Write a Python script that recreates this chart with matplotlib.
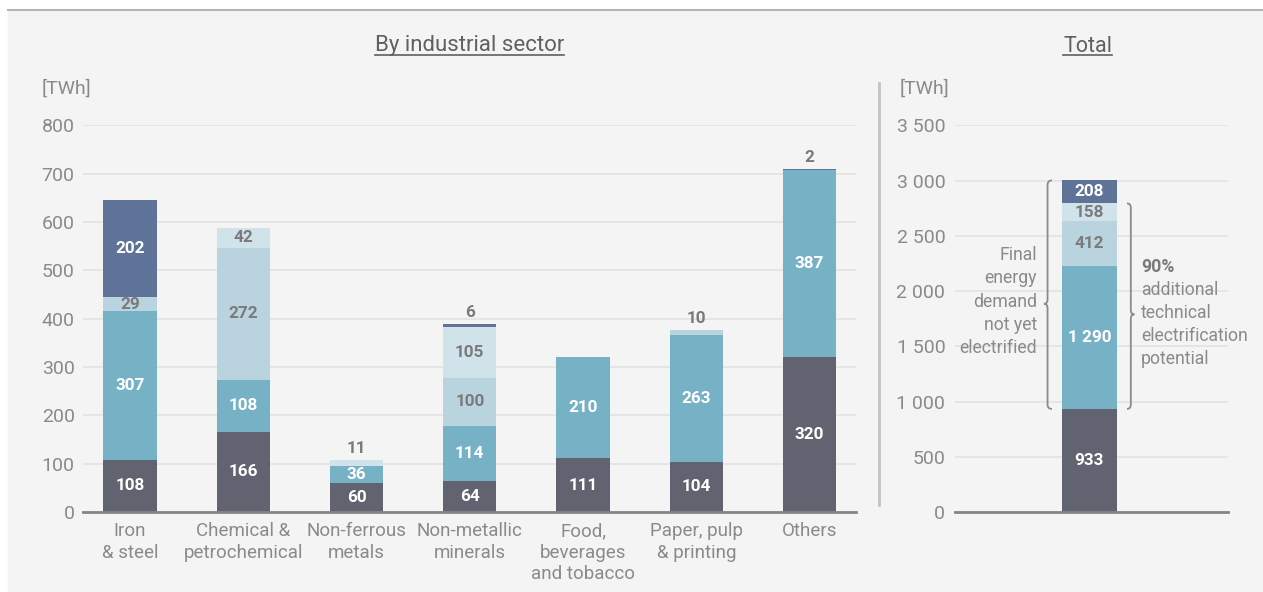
import matplotlib.pyplot as plt
from matplotlib.path import Path
from matplotlib.patches import PathPatch, Rectangle
from matplotlib.lines import Line2D

plt.rcParams['font.family'] = ['Roboto', 'DejaVu Sans']

# ---------- data [TWh] ----------
sectors = ["Iron\n& steel", "Chemical &\npetrochemical", "Non-ferrous\nmetals",
           "Non-metallic\nminerals", "Food,\nbeverages\nand tobacco",
           "Paper, pulp\n& printing", "Others"]
seg_dark = [108, 166, 60, 64, 111, 104, 320]
seg_teal = [307, 108, 36, 114, 210, 263, 387]
seg_light = [29, 272, 0, 100, 0, 10, 0]
seg_pale = [0, 42, 11, 105, 0, 0, 0]
seg_navy = [202, 0, 0, 6, 0, 0, 2]

total_segs = [933, 1290, 412, 158, 208]

left_ticks = [0, 100, 200, 300, 400, 500, 600, 700, 800]
right_ticks = [0, 500, 1000, 1500, 2000, 2500, 3000, 3500]

# ---------- style ----------
colors = ["#626370", "#77b1c6", "#b9d4df", "#d0e3eb", "#5e7397"]
lab_colors = ["white", "white", "#7a7a7a", "#7a7a7a", "white"]
bg = "#f4f4f4"
grid_col = "#e3e3e3"
axis_col = "#858585"
txt_col = "#8a8a8a"
W, H = 1263, 592


def fmt(v):
    return f"{v:,}".replace(",", " ")


def style_axis(ax, ticks, pad):
    ax.set_facecolor("none")
    for s in ["top", "right", "left"]:
        ax.spines[s].set_visible(False)
    ax.spines["bottom"].set_color(axis_col)
    ax.spines["bottom"].set_linewidth(2)
    ax.spines["bottom"].set_zorder(5)
    ax.set_yticks(ticks)
    ax.set_yticklabels([fmt(t) for t in ticks])
    ax.set_ylim(ticks[0], ticks[-1])
    ax.tick_params(axis="y", length=0, pad=pad, labelsize=14, labelcolor=txt_col)
    ax.tick_params(axis="x", length=0, pad=7.5, labelsize=13.5, labelcolor=txt_col)
    ax.yaxis.grid(True, color=grid_col, lw=1.2)
    ax.set_axisbelow(True)


def stack(ax, xs, layers, width, small=15):
    bottoms = [0] * len(xs)
    for layer, c, lc in zip(layers, colors, lab_colors):
        for i, v in enumerate(layer):
            if v == 0:
                continue
            ax.bar(xs[i], v, width, bottom=bottoms[i], color=c, zorder=2)
            if v >= small:
                ax.text(xs[i], bottoms[i] + v / 2, fmt(v), ha="center", va="center",
                        color=lc, fontsize=12.3, fontweight="bold", zorder=3)
            bottoms[i] += v
    # tiny top segments get their value above the bar
    for layer in layers:
        for i, v in enumerate(layer):
            if 0 < v < small:
                ax.annotate(fmt(v), (xs[i], bottoms[i]), xytext=(0, 3),
                            textcoords="offset points", ha="center", va="bottom",
                            color="#7a7a7a", fontsize=12.3, fontweight="bold")
    return bottoms


def brace(ax, x_end, x_spine, x_tip, y0, y1, frac=0.46, r=40):
    ym = y0 + (y1 - y0) * frac
    verts = [(x_end, y1), (x_spine, y1), (x_spine, y1 - r),
             (x_spine, ym + r),
             (x_spine, ym), (x_tip, ym),
             (x_spine, ym), (x_spine, ym - r),
             (x_spine, y0 + r),
             (x_spine, y0), (x_end, y0)]
    codes = [Path.MOVETO, Path.CURVE3, Path.CURVE3,
             Path.LINETO,
             Path.CURVE3, Path.CURVE3,
             Path.CURVE3, Path.CURVE3,
             Path.LINETO,
             Path.CURVE3, Path.CURVE3]
    ax.add_patch(PathPatch(Path(verts, codes), fill=False, edgecolor="#8a8a8a",
                           lw=1.3, clip_on=False, zorder=4))


fig = plt.figure(figsize=(W / 100, H / 100), dpi=100, facecolor="white")
fig.add_artist(Rectangle((8 / W, 0), 1, (H - 10) / H, transform=fig.transFigure,
                         color=bg, zorder=-10))
fig.add_artist(Line2D([8 / W, 1], [(H - 10) / H] * 2, color="#b5b5b5", lw=1.5))

# ---------- by industrial sector ----------
ax1 = fig.add_axes([83 / W, 80 / H, 773 / W, 386.7 / H])
style_axis(ax1, left_ticks, 6)
xs = list(range(len(sectors)))
stack(ax1, xs, [seg_dark, seg_teal, seg_light, seg_pale, seg_navy], 0.47)
ax1.set_xlim(-0.415, 6.41)
ax1.set_xticks(xs)
ax1.set_xticklabels(sectors, linespacing=1.25)

# ---------- total ----------
ax2 = fig.add_axes([955 / W, 80 / H, 273 / W, 386.7 / H])
style_axis(ax2, right_ticks, 7)
ax2.set_xlim(0, 1)
ax2.set_xticks([])
stack(ax2, [0.492], [[v] for v in total_segs], 0.2)

top_all = sum(total_segs)
top_90 = sum(total_segs[:4])
brace(ax2, 0.355, 0.339, 0.326, total_segs[0], top_all)
brace(ax2, 0.630, 0.644, 0.657, total_segs[0], top_90)
ax2.text(0.300, 1905, "Final\nenergy\ndemand\nnot yet\nelectrified", ha="right",
         va="center", multialignment="right", color=txt_col, fontsize=12.7,
         linespacing=1.37)
ax2.text(0.681, 2217, "90%", ha="left", va="center", color="#7a7a7a",
         fontsize=12.7, fontweight="bold")
ax2.text(0.681, 1700, "additional\ntechnical\nelectrification\npotential", ha="left",
         va="center", color=txt_col, fontsize=12.7, linespacing=1.36)

# divider between panels
fig.add_artist(Line2D([879 / W] * 2, [(H - 505) / H, (H - 83) / H], color="#c3c3c3", lw=2))

# unit labels
fig.text(42 / W, (H - 89) / H, "[TWh]", ha="left", va="center", color=txt_col, fontsize=14)
fig.text(900 / W, (H - 89) / H, "[TWh]", ha="left", va="center", color=txt_col, fontsize=14)

# underlined panel titles
titles = []
for label, xc, fs in [("By industrial sector", 469.5 / W, 16), ("Total", 1087.5 / W, 15.5)]:
    titles.append(fig.text(xc, (H - 51.5) / H, label, ha="center", va="baseline",
                           color="#606060", fontsize=fs))
fig.canvas.draw()
renderer = fig.canvas.get_renderer()
for t in titles:
    bb = t.get_window_extent(renderer).transformed(fig.transFigure.inverted())
    fig.add_artist(Line2D([bb.x0, bb.x1], [(H - 54.5) / H] * 2, color="#606060", lw=1.2))

fig.savefig("out.png", dpi=100, facecolor="white")
